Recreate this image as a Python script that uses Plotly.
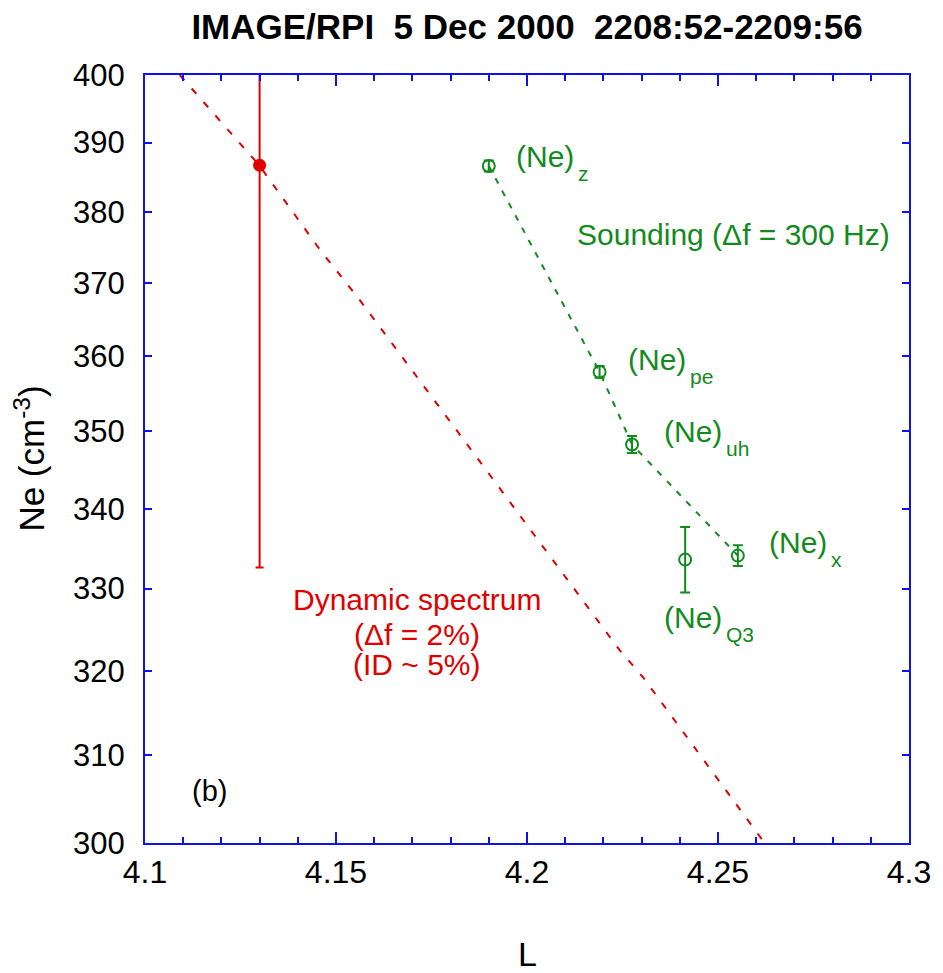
import plotly.graph_objects as go
import math

# ---- data ----
red_curve_L = [4.1091, 4.1299, 4.1460, 4.1556, 4.1914, 4.2242, 4.2304, 4.2603, 4.2622]
red_curve_Ne = [400.0, 386.7, 374.5, 368.1, 343.6, 322.5, 319.2, 301.1, 300.0]

dyn_L = [4.13]
dyn_Ne = [386.7]
dyn_err = [54.1]

sound_L = [4.19, 4.219, 4.2275, 4.2552]
sound_Ne = [386.6, 357.9, 348.3, 334.1]
sound_err = [0.8, 0.8, 1.1, 1.3]

q3_L = [4.2414]
q3_Ne = [333.6]
q3_err = [4.1]

y_ticks = [300, 310, 320, 330, 340, 350, 360, 370, 380, 390, 400]

# label texts: (main text, subscript, L, Ne)
green_labels = [("(Ne)", "z", 4.1965, 388.0),
                ("(Ne)", "pe", 4.2258, 359.6),
                ("(Ne)", "uh", 4.2354, 350.0),
                ("(Ne)", "x", 4.2628, 335.7),
                ("(Ne)", "Q3", 4.2354, 326.4)]
sounding_label = ("Sounding (Δf = 300 Hz)", 4.2125, 376.8)
dyn_label_lines = [("Dynamic spectrum", 328.6), ("(Δf = 2%)", 324.4), ("(ID ~ 5%)", 320.7)]
dyn_label_L = 4.1711

RED = "#e00000"
GREEN = "#138a20"
BLUE = "#1010e8"
FONT = "Liberation Sans, Arial, sans-serif"

fig = go.Figure()

fig.add_trace(go.Scatter(x=red_curve_L, y=red_curve_Ne, mode="lines",
                         line=dict(color=RED, width=2, dash="7px,11px"),
                         showlegend=False, hoverinfo="skip"))
fig.add_trace(go.Scatter(x=dyn_L, y=dyn_Ne, mode="markers",
                         marker=dict(color=RED, size=13),
                         error_y=dict(type="data", array=dyn_err, color=RED,
                                      thickness=2, width=4),
                         showlegend=False))
fig.add_trace(go.Scatter(x=sound_L, y=sound_Ne, mode="lines",
                         line=dict(color=GREEN, width=2, dash="6px,8px"),
                         showlegend=False, hoverinfo="skip"))
fig.add_trace(go.Scatter(x=sound_L, y=sound_Ne, mode="markers",
                         marker=dict(symbol="circle-open", color=GREEN, size=12,
                                     line=dict(width=2, color=GREEN)),
                         error_y=dict(type="data", array=sound_err, color=GREEN,
                                      thickness=2, width=5),
                         showlegend=False))
fig.add_trace(go.Scatter(x=q3_L, y=q3_Ne, mode="markers",
                         marker=dict(symbol="circle-open", color=GREEN, size=12,
                                     line=dict(width=2, color=GREEN)),
                         error_y=dict(type="data", array=q3_err, color=GREEN,
                                      thickness=2, width=5),
                         showlegend=False))

lg = math.log10
annotations = []
for main, sub, lx, ne in green_labels:
    annotations.append(dict(x=lx, y=lg(ne), xref="x", yref="y", xanchor="left",
                            yanchor="middle", showarrow=False, text=main,
                            font=dict(family=FONT, size=30, color=GREEN)))
    annotations.append(dict(x=lx, y=lg(ne), xref="x", yref="y", xanchor="left",
                            yanchor="middle", showarrow=False, text=sub,
                            xshift=62, yshift=-17,
                            font=dict(family=FONT, size=21, color=GREEN)))
annotations.append(dict(x=sounding_label[1], y=lg(sounding_label[2]), xref="x", yref="y",
                        xanchor="left", yanchor="middle", showarrow=False,
                        text=sounding_label[0],
                        font=dict(family=FONT, size=30, color=GREEN)))
for txt, ne in dyn_label_lines:
    annotations.append(dict(x=dyn_label_L, y=lg(ne), xref="x", yref="y",
                            xanchor="center", yanchor="middle", showarrow=False,
                            text=txt, font=dict(family=FONT, size=30, color=RED)))

annotations += [
    dict(x=4.1168, y=lg(305.9), xref="x", yref="y", xanchor="center", yanchor="middle",
         text="(b)", showarrow=False, font=dict(color="black", family=FONT, size=29)),
    dict(x=0.5, y=-(954 - 843) / 768, xref="paper", yref="paper", xanchor="center",
         yanchor="middle", text="L", showarrow=False,
         font=dict(color="black", family=FONT, size=34)),
    dict(x=-(145 - 29) / 768, y=0.5, xref="paper", yref="paper", xanchor="center",
         yanchor="middle", text="Ne (cm<sup>-3</sup>)", textangle=-90, showarrow=False,
         font=dict(color="black", family=FONT, size=35)),
]

fig.update_layout(
    width=943, height=973,
    margin=dict(l=145, r=30, t=75, b=130),
    paper_bgcolor="white", plot_bgcolor="white",
    title=dict(text="<b>IMAGE/RPI  5 Dec 2000  2208:52-2209:56</b>",
               x=0.5, xref="paper", xanchor="center",
               y=1 - 27 / 973, yref="container", yanchor="middle",
               font=dict(family=FONT, size=35, color="black")),
    annotations=annotations,
    xaxis=dict(range=[4.1, 4.3], tickvals=[4.1, 4.15, 4.2, 4.25, 4.3],
               ticktext=["4.1", "4.15", "4.2", "4.25", "4.3"],
               ticks="inside", ticklen=11, tickwidth=2, tickcolor=BLUE,
               minor=dict(dtick=0.01, tick0=4.1, ticks="inside", ticklen=6,
                          tickwidth=2, tickcolor=BLUE, showgrid=False),
               showline=True, linecolor=BLUE, linewidth=2, mirror="ticks",
               showgrid=False, zeroline=False,
               tickfont=dict(family=FONT, size=32, color="black")),
    yaxis=dict(type="log", range=[math.log10(300), math.log10(400)],
               tickvals=y_ticks, ticktext=[str(v) for v in y_ticks],
               ticks="inside", ticklen=7, tickwidth=2, tickcolor=BLUE,
               showline=True, linecolor=BLUE, linewidth=2, mirror="ticks",
               showgrid=False, zeroline=False, ticklabelstandoff=12,
               tickfont=dict(family=FONT, size=31, color="black")),
)

fig.write_html("out.html")
